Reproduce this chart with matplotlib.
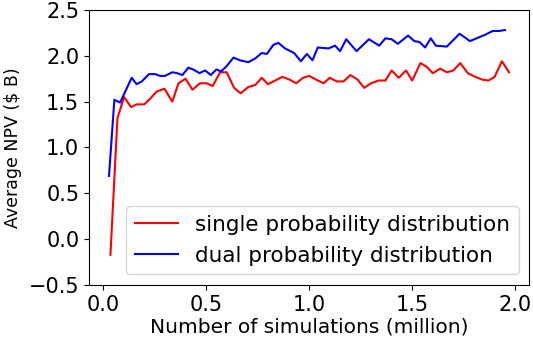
import matplotlib
matplotlib.use("Agg")
import matplotlib.pyplot as plt

single_x = [0.036, 0.07, 0.102, 0.136, 0.163, 0.2, 0.228, 0.26, 0.298, 0.336, 0.366, 0.40, 0.434,
            0.47, 0.503, 0.532, 0.568, 0.60, 0.636, 0.668, 0.705, 0.738, 0.77, 0.80, 0.835, 0.87,
            0.905, 0.937, 0.97, 1.00, 1.034, 1.07, 1.10, 1.134, 1.167, 1.20, 1.235, 1.267, 1.30,
            1.336, 1.37, 1.40, 1.435, 1.47, 1.50, 1.54, 1.57, 1.60, 1.636, 1.668, 1.70, 1.733,
            1.77, 1.806, 1.84, 1.87, 1.90, 1.935, 1.97]
single_y = [-0.17, 1.32, 1.55, 1.44, 1.47, 1.47, 1.53, 1.61, 1.64, 1.50, 1.70, 1.75, 1.63,
            1.70, 1.70, 1.67, 1.82, 1.82, 1.65, 1.59, 1.66, 1.68, 1.76, 1.69, 1.73, 1.77,
            1.74, 1.70, 1.76, 1.78, 1.74, 1.70, 1.76, 1.72, 1.72, 1.79, 1.74, 1.65, 1.70,
            1.73, 1.73, 1.84, 1.76, 1.84, 1.73, 1.92, 1.88, 1.81, 1.86, 1.82, 1.84, 1.92,
            1.81, 1.77, 1.74, 1.73, 1.77, 1.94, 1.82]

dual_x = [0.029, 0.055, 0.083, 0.11, 0.139, 0.163, 0.188, 0.223, 0.252, 0.277, 0.30, 0.336,
          0.36, 0.385, 0.414, 0.438, 0.468, 0.495, 0.523, 0.55, 0.573, 0.597, 0.633, 0.665,
          0.705, 0.738, 0.77, 0.795, 0.827, 0.851, 0.883, 0.927, 0.96, 0.989, 1.016, 1.042,
          1.094, 1.126, 1.15, 1.18, 1.23, 1.29, 1.34, 1.37, 1.40, 1.43, 1.48, 1.51, 1.535,
          1.563, 1.59, 1.615, 1.668, 1.73, 1.78, 1.855, 1.89, 1.92, 1.95]
dual_y = [0.69, 1.52, 1.49, 1.62, 1.76, 1.69, 1.72, 1.80, 1.80, 1.78, 1.78, 1.82,
          1.81, 1.79, 1.87, 1.85, 1.81, 1.84, 1.79, 1.85, 1.83, 1.88, 1.98, 1.95,
          1.93, 1.97, 2.03, 2.02, 2.12, 2.14, 2.08, 2.03, 1.94, 2.02, 1.95, 2.09,
          2.08, 2.11, 2.05, 2.18, 2.05, 2.18, 2.11, 2.19, 2.18, 2.13, 2.22, 2.16, 2.15,
          2.09, 2.19, 2.11, 2.10, 2.24, 2.16, 2.23, 2.27, 2.27, 2.28]

fig = plt.figure(figsize=(5.33, 3.41), dpi=100)
ax = fig.add_axes([0.167, 0.164, 0.826, 0.807])
ax.plot(single_x, single_y, color="red", lw=1.5, label="single probability distribution")
ax.plot(dual_x, dual_y, color="blue", lw=1.5, label="dual probability distribution")
ax.set_xlim(-0.068, 2.068)
ax.set_ylim(-0.5, 2.5)
ax.set_xticks([0.0, 0.5, 1.0, 1.5, 2.0])
ax.set_yticks([-0.5, 0.0, 0.5, 1.0, 1.5, 2.0, 2.5])
ax.tick_params(labelsize=15)
ax.set_xlabel("Number of simulations (million)", fontsize=14.5, labelpad=2)
ax.set_ylabel("Average NPV ($ B)", fontsize=12.5, labelpad=5)
ax.legend(loc="lower right", fontsize=15.5, handlelength=2.0)
fig.savefig("out.png", dpi=100)
